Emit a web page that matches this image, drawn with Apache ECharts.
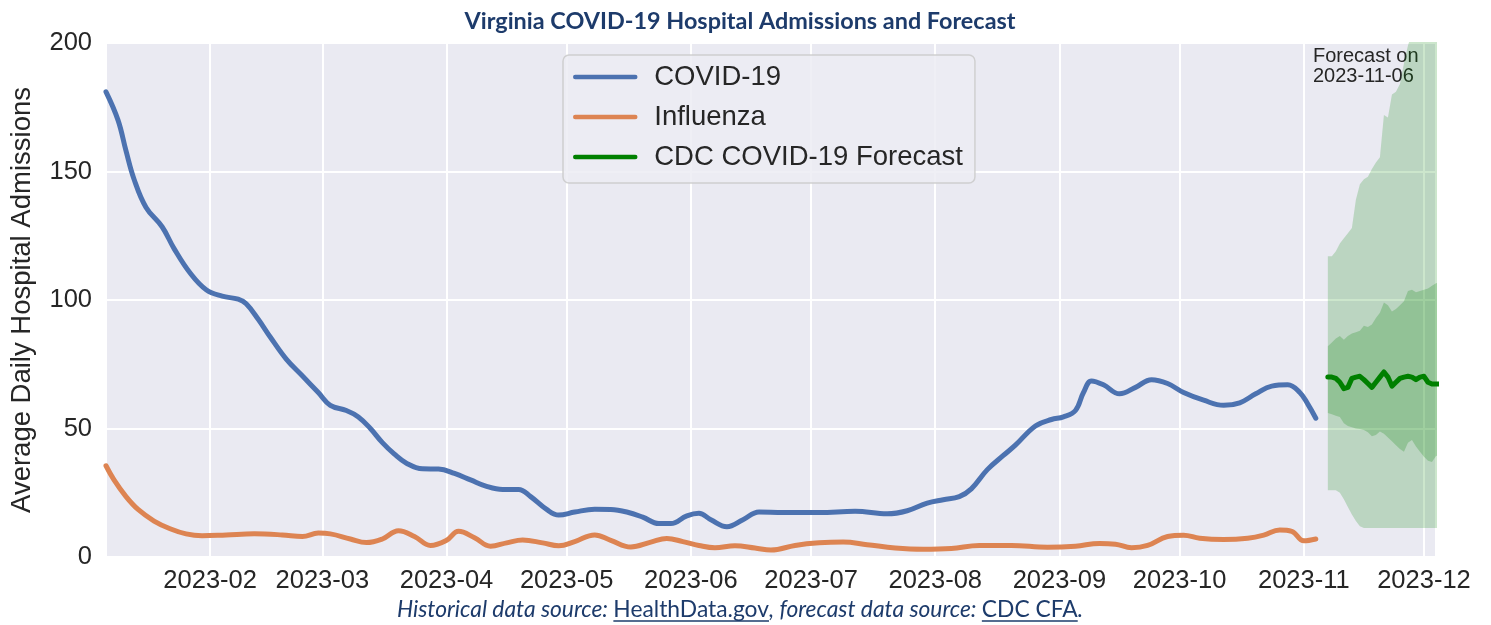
<!DOCTYPE html>
<html>
<head>
<meta charset="utf-8">
<script src="https://cdn.jsdelivr.net/npm/echarts@6/dist/echarts.min.js"></script>
<style>
  html, body { margin: 0; padding: 0; background: #fff; }
  #chart { width: 1491px; height: 625px; }
</style>
</head>
<body>
<div id="chart"></div>
<script>
// ---- historical data (7-day average daily admissions) ----
const covidDates = [
  '2023-01-06','2023-01-09','2023-01-11','2023-01-13','2023-01-16','2023-01-20','2023-01-23','2023-01-27',
  '2023-01-31','2023-02-04','2023-02-08','2023-02-10','2023-02-13','2023-02-16','2023-02-20','2023-02-24',
  '2023-02-28','2023-03-03','2023-03-07','2023-03-10','2023-03-13','2023-03-16','2023-03-19','2023-03-22',
  '2023-03-26','2023-03-30','2023-04-03','2023-04-07','2023-04-11','2023-04-15','2023-04-19','2023-04-22',
  '2023-04-26','2023-04-29','2023-05-03','2023-05-08','2023-05-12','2023-05-16','2023-05-20','2023-05-24',
  '2023-05-27','2023-05-31','2023-06-03','2023-06-06','2023-06-10','2023-06-14','2023-06-18','2023-06-24',
  '2023-07-03','2023-07-12','2023-07-20','2023-07-25','2023-07-30','2023-08-03','2023-08-07','2023-08-10',
  '2023-08-14','2023-08-18','2023-08-21','2023-08-26','2023-08-30','2023-09-02','2023-09-05','2023-09-07',
  '2023-09-09','2023-09-12','2023-09-16','2023-09-20','2023-09-24','2023-09-28','2023-10-02','2023-10-07',
  '2023-10-12','2023-10-16','2023-10-20','2023-10-24','2023-10-28','2023-10-31','2023-11-02','2023-11-04'
];
const covidValues = [
  181, 170, 158, 147, 136, 128.5, 120, 110.5,
  104, 101.5, 100.3, 98.5, 92.5, 85.6, 77, 70.5,
  64, 59, 57, 54.5, 50, 44.5, 40, 36.5,
  34.3, 34.2, 32.5, 30, 27.5, 26.3, 26.3, 23.5,
  18.5, 16.3, 17.5, 18.6, 18.5, 17.5, 15.5, 13,
  13, 16, 17, 14.5, 11.8, 14.5, 17.5, 17.3,
  17.3, 17.8, 16.8, 18, 21, 22.3, 23.5, 26.5,
  34, 39.5, 43.5, 51, 53.5, 54.5, 57, 64,
  68.5, 67, 63.5, 66, 69, 67.5, 64, 61,
  59, 60, 63.5, 66.5, 67, 64, 59.5, 54
];

const fluDates = [
  '2023-01-06','2023-01-08','2023-01-11','2023-01-14','2023-01-18','2023-01-22','2023-01-26','2023-01-30',
  '2023-02-05','2023-02-12','2023-02-19','2023-02-24','2023-02-28','2023-03-03','2023-03-08','2023-03-12',
  '2023-03-16','2023-03-20','2023-03-24','2023-03-28','2023-04-01','2023-04-04','2023-04-08','2023-04-12',
  '2023-04-16','2023-04-20','2023-04-25','2023-04-29','2023-05-03','2023-05-08','2023-05-12','2023-05-17',
  '2023-05-22','2023-05-26','2023-05-30','2023-06-03','2023-06-07','2023-06-12','2023-06-17','2023-06-21',
  '2023-06-27','2023-07-03','2023-07-09','2023-07-15','2023-07-22','2023-07-29','2023-08-05','2023-08-12',
  '2023-08-20','2023-08-29','2023-09-05','2023-09-11','2023-09-15','2023-09-19','2023-09-23','2023-09-28',
  '2023-10-02','2023-10-06','2023-10-12','2023-10-18','2023-10-22','2023-10-26','2023-10-29','2023-11-01',
  '2023-11-04'
];
const fluValues = [
  35.5, 30, 23.5, 18.5, 14, 11, 9, 8.3,
  8.6, 9, 8.6, 8, 9.3, 9, 7, 5.6,
  7, 10.2, 8, 4.5, 6.5, 10, 7.5, 4.2,
  5.5, 6.6, 5.5, 4.4, 6, 8.6, 6.5, 3.9,
  5.8, 7.2, 6, 4.5, 3.6, 4.4, 3.5, 2.7,
  4.5, 5.5, 5.8, 4.8, 3.5, 3, 3.3, 4.5,
  4.5, 3.8, 4.2, 5.3, 5, 3.6, 4.5, 8,
  8.5, 7.3, 6.8, 7.3, 8.5, 10.5, 10, 6.3,
  7
];

// ---- CDC forecast issued 2023-11-06 ----
const forecastDates = [
  '2023-11-07','2023-11-08','2023-11-09','2023-11-10','2023-11-11','2023-11-12','2023-11-13','2023-11-14',
  '2023-11-15','2023-11-16','2023-11-17','2023-11-18','2023-11-19','2023-11-20','2023-11-21','2023-11-22',
  '2023-11-23','2023-11-24','2023-11-25','2023-11-26','2023-11-27','2023-11-28','2023-11-29','2023-11-30',
  '2023-12-01','2023-12-02','2023-12-03','2023-12-04','2023-12-05'
];
const forecastMedian = [
  70, 70, 69.5, 68, 65.5, 66, 69.5, 70,
  70.3, 69, 67.5, 66, 68, 70, 72, 70,
  66.5, 68, 69.5, 70, 70.3, 70, 69, 70,
  70.3, 68, 67.3, 67.3, 67.3
];
const forecastInnerLow = [
  56, 55.5, 55, 54.5, 52, 51, 50.5, 50,
  49.8, 49.4, 48.5, 47, 47.5, 48.8, 48, 46.5,
  45, 43.5, 42, 41, 44.5, 45.5, 43, 41,
  39, 37.5, 37, 39.3, 39.5
];
const forecastInnerHigh = [
  82, 83.5, 85, 86, 84.5, 86, 87, 87.5,
  88, 90, 89.5, 90.5, 93, 95, 99, 98,
  95.5, 96.5, 98, 99.5, 103.5, 104, 103, 103.5,
  104, 104.5, 105.5, 106.5, 107
];
const forecastOuterLow = [
  26, 26, 26, 25, 22.5, 19.5, 16.5, 14,
  12, 11.3, 11.3, 11.3, 11.3, 11.3, 11.3, 11.3,
  11.3, 11.3, 11.3, 11.3, 11.3, 11.3, 11.3, 11.3,
  11.3, 11.3, 11.3, 11.3, 11.3
];
const forecastOuterHigh = [
  117, 117, 119, 122, 124, 126, 128, 139,
  145, 147, 148, 151, 153.5, 155.5, 172, 171,
  180, 181, 184, 192, 199, 204, 208, 212,
  215, 218, 221, 224, 227
];

const TEXT = '#262626';
const NAVY = '#1d3b6b';

function pairs(dates, vals) { return dates.map((d, i) => [d, vals[i]]); }
function diff(hi, lo) { return hi.map((v, i) => v - lo[i]); }

function bandSeries(stackId, lo, hi, color) {
  return [
    {
      type: 'line', stack: stackId, symbol: 'none', silent: true,
      lineStyle: { opacity: 0 }, data: pairs(forecastDates, lo), z: 1
    },
    {
      type: 'line', stack: stackId, symbol: 'none', silent: true,
      lineStyle: { opacity: 0 }, areaStyle: { color: color, opacity: 1 },
      data: pairs(forecastDates, diff(hi, lo)), z: 1
    }
  ];
}

// caption pieces, underline the links
const captionParts = [
  ['Historical data source: ', false],
  ['HealthData.gov', true],
  [', forecast data source: ', false],
  ['CDC CFA', true],
  ['.', false]
];
const capSize = 22.8, capFont = 'Lato';
const mctx = document.createElement('canvas').getContext('2d');
function textW(t, link) {
  mctx.font = (link ? '' : 'italic ') + capSize + 'px ' + capFont;
  return mctx.measureText(t).width;
}
const capCenter = 740, capY = 610;
const capTotal = captionParts.reduce((s, p) => s + textW(p[0], p[1]), 0);
let cx = capCenter - capTotal / 2;
const capStart = cx;
const underlines = [];
captionParts.forEach(p => {
  const w = textW(p[0], p[1]);
  if (p[1]) {
    underlines.push({
      type: 'line', silent: true,
      shape: { x1: cx, y1: capY + 11, x2: cx + w, y2: capY + 11 },
      style: { stroke: NAVY, lineWidth: 1.3 }
    });
  }
  cx += w;
});
const capRich = captionParts.map(p => '{' + (p[1] ? 'u' : 'i') + '|' + p[0] + '}').join('');

const chart = echarts.init(document.getElementById('chart'));
chart.setOption({
  animation: false,
  textStyle: { fontFamily: 'Liberation Sans, Arial, sans-serif' },
  grid: {
    left: 105, right: 55, top: 43, bottom: 68,
    show: true, backgroundColor: '#eaeaf2', borderWidth: 0
  },
  legend: {
    data: ['COVID-19', 'Influenza', 'CDC COVID-19 Forecast'],
    orient: 'vertical', left: 563, top: 55,
    itemWidth: 60, itemHeight: 28, itemGap: 12,
    padding: [8, 12, 12, 10],
    backgroundColor: 'rgba(236,236,243,0.85)',
    borderColor: 'rgba(204,204,204,0.9)', borderWidth: 1.5, borderRadius: 6,
    itemStyle: { opacity: 0 },
    lineStyle: { width: 4.5, cap: 'round' },
    textStyle: { fontSize: 27.5, color: TEXT, lineHeight: 28, padding: [0, 0, 0, 14] }
  },
  xAxis: {
    type: 'time',
    min: +new Date(2023, 0, 6), max: +new Date(2023, 11, 4),
    splitNumber: 11,
    axisLine: { show: false }, axisTick: { show: false },
    splitLine: { show: true, lineStyle: { color: '#ffffff', width: 2 } },
    axisLabel: {
      fontSize: 25.5, color: TEXT, margin: 11,
      showMinLabel: false, showMaxLabel: false,
      formatter: function (v) {
        const d = new Date(v);
        return d.getFullYear() + '-' + String(d.getMonth() + 1).padStart(2, '0');
      }
    }
  },
  yAxis: {
    type: 'value', min: 0, max: 200, interval: 50,
    axisLine: { show: false }, axisTick: { show: false },
    splitLine: { lineStyle: { color: '#ffffff', width: 2 } },
    axisLabel: { fontSize: 25.5, color: TEXT, margin: 14 },
    name: 'Average Daily Hospital Admissions',
    nameLocation: 'middle', nameGap: 70,
    nameTextStyle: { fontSize: 27.5, color: TEXT }
  },
  series: [
    ...bandSeries('outer', forecastOuterLow, forecastOuterHigh, 'rgba(0,128,0,0.2)'),
    ...bandSeries('inner', forecastInnerLow, forecastInnerHigh, 'rgba(0,128,0,0.22)'),
    {
      name: 'COVID-19', type: 'line', symbol: 'none', smooth: 0.4,
      lineStyle: { color: '#4c72b0', width: 5, cap: 'round' },
      itemStyle: { color: '#4c72b0' },
      data: pairs(covidDates, covidValues), z: 3
    },
    {
      name: 'Influenza', type: 'line', symbol: 'none', smooth: 0.4,
      lineStyle: { color: '#dd8452', width: 5, cap: 'round' },
      itemStyle: { color: '#dd8452' },
      data: pairs(fluDates, fluValues), z: 3
    },
    {
      name: 'CDC COVID-19 Forecast', type: 'line', symbol: 'none',
      lineStyle: { color: '#008000', width: 5, cap: 'round', join: 'round' },
      itemStyle: { color: '#008000' },
      data: pairs(forecastDates, forecastMedian), z: 4
    }
  ],
  graphic: [
    {
      type: 'text', x: 740, y: 21, silent: true,
      style: {
        text: 'Virginia COVID-19 Hospital Admissions and Forecast',
        fontFamily: 'Lato', fontWeight: 'bold', fontSize: 23.4, fill: NAVY,
        align: 'center', verticalAlign: 'middle'
      }
    },
    {
      type: 'text', x: 1313, y: 46, silent: true,
      style: {
        text: 'Forecast on\n2023-11-06',
        fontFamily: 'Liberation Sans', fontSize: 20, lineHeight: 20, fill: TEXT,
        verticalAlign: 'top'
      }
    },
    {
      type: 'text', x: capStart, y: capY, silent: true,
      style: {
        text: capRich, verticalAlign: 'middle', align: 'left',
        rich: {
          i: { fontFamily: capFont, fontStyle: 'italic', fontSize: capSize, fill: NAVY, color: NAVY },
          u: { fontFamily: capFont, fontSize: capSize, fill: NAVY, color: NAVY }
        }
      }
    },
    ...underlines
  ]
});
</script>
</body>
</html>
